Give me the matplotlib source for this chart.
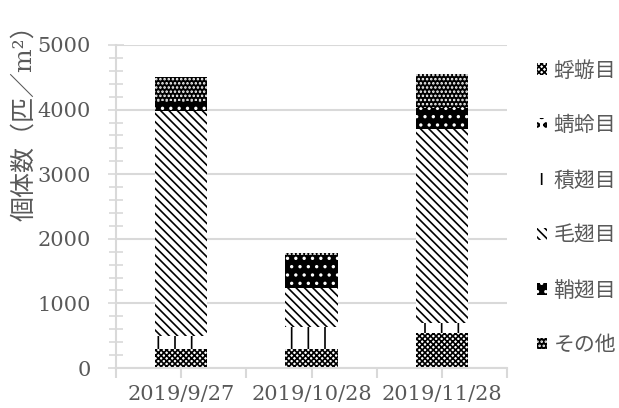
import numpy as np
import matplotlib
matplotlib.use("Agg")
import matplotlib.pyplot as plt
from matplotlib.ticker import MultipleLocator

# 採集日と目別の個体数（匹/m2）
dates = ["2019/9/27", "2019/10/28", "2019/11/28"]
kagero = [300, 300, 545]      # 蜉蝣目
tonbo = [0, 0, 0]             # 蜻蛉目
kawagera = [190, 335, 150]    # 積翅目
tobikera = [3490, 605, 3010]  # 毛翅目
kouchu = [155, 505, 320]      # 鞘翅目
sonota = [370, 35, 530]       # その他

labels = ["蜉蝣目", "蜻蛉目", "積翅目", "毛翅目", "鞘翅目", "その他"]
series = [kagero, tonbo, kawagera, tobikera, kouchu, sonota]

GRAY = "#595959"
LIGHT = "#d9d9d9"
plt.rcParams["font.family"] = ["DejaVu Serif", "Noto Sans CJK JP"]
plt.rcParams["hatch.linewidth"] = 1.2

# (facecolor, hatch color, hatch)
styles = [
    ("white", "black", "xxxxxx"),
    ("white", "black", "oo"),
    ("white", "black", "|"),
    ("white", "black", "\\\\\\\\"),
    ("black", "white", ".."),
    ("black", "white", "...."),
]

fig = plt.figure(figsize=(6.19, 4.08), dpi=100)
ax = fig.add_axes([116/619, 1-368/408, 391/619, 323/408])

x = np.arange(len(dates))
bottom = np.zeros(len(dates))
handles = []
for vals, lab, (fc, hc, h) in zip(series, labels, styles):
    b = ax.bar(x, vals, 0.4, bottom=bottom, color=fc, edgecolor=hc,
               hatch=h, linewidth=0, label=lab, zorder=2)
    handles.append(b)
    bottom += np.array(vals)

ax.set_xlim(-0.5, 2.5)
ax.set_ylim(0, 5000)
ax.yaxis.set_major_locator(MultipleLocator(1000))
ax.yaxis.set_minor_locator(MultipleLocator(200))
ax.set_xticks(x, dates)
ax.set_xticks([-0.5, 0.5, 1.5, 2.5], minor=True)
ax.grid(axis="y", color=LIGHT, linewidth=1.5, zorder=0)
for s in ["top", "right"]:
    ax.spines[s].set_visible(False)
for s in ["left", "bottom"]:
    ax.spines[s].set_color(LIGHT)
    ax.spines[s].set_linewidth(1.5)
ax.tick_params(axis="y", which="both", direction="inout", color=LIGHT,
               width=1.2, labelcolor=GRAY, labelsize=15)
ax.tick_params(axis="y", which="major", length=12, pad=12)
ax.tick_params(axis="y", which="minor", length=10)
ax.tick_params(axis="x", which="both", direction="out", length=7, color=LIGHT,
               width=1.5, labelcolor=GRAY, labelsize=15, pad=5)

fig.text(24/619, 1-117/408, "個体数（匹／m²）", rotation=90, ha="center",
         va="center", color=GRAY, fontsize=18)

fig.legend(handles=handles, labels=labels, loc="center left",
           bbox_to_anchor=(518/619, 1-208/408), frameon=False,
           fontsize=15, labelcolor=GRAY, handlelength=0.5, handleheight=0.5,
           handletextpad=0.3, labelspacing=1.7)

fig.savefig("out.png", dpi=100)
